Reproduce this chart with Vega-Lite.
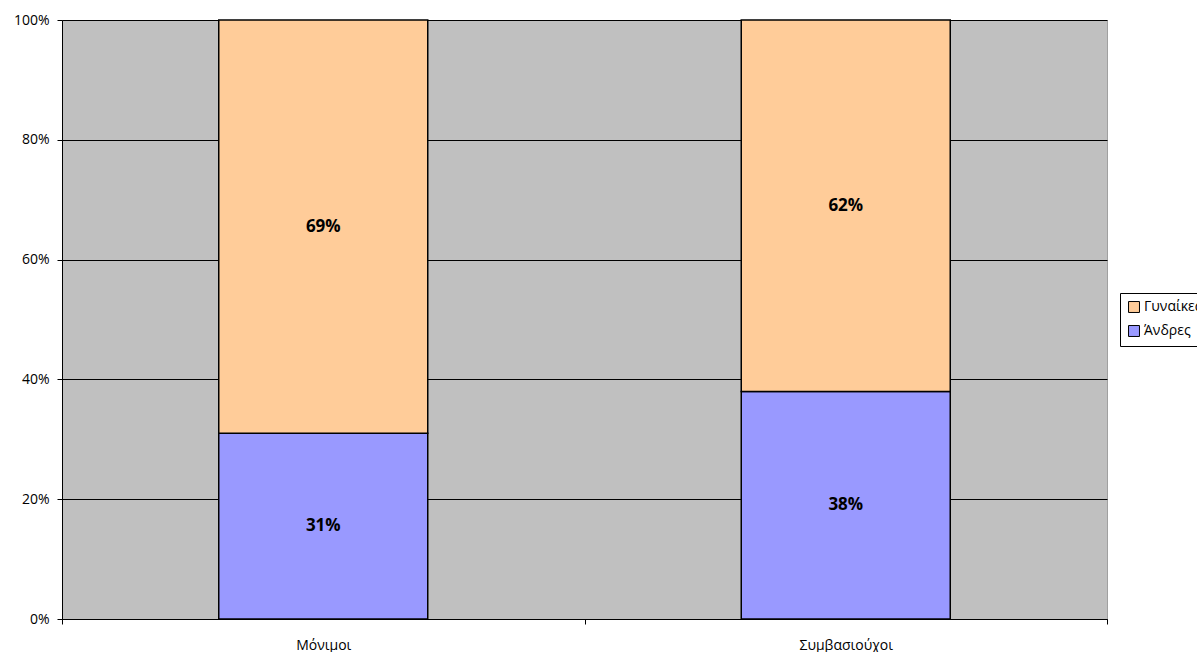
{
  "$schema": "https://vega.github.io/schema/vega-lite/v6.json",
  "autosize": {"type": "none"},
  "padding": {"left": 62, "top": 20, "right": 90, "bottom": 33},
  "width": 1045,
  "height": 599,
  "background": "white",
  "config": {
    "view": {"fill": "#C0C0C0", "stroke": "#A0A0A0"},
    "font": "Open Sans"
  },
  "data": {
    "values": [
      {"type": "Μόνιμοι", "gender": "Άνδρες", "value": 0.31},
      {"type": "Μόνιμοι", "gender": "Γυναίκες", "value": 0.69},
      {"type": "Συμβασιούχοι", "gender": "Άνδρες", "value": 0.38},
      {"type": "Συμβασιούχοι", "gender": "Γυναίκες", "value": 0.62}
    ]
  },
  "transform": [
    {"stack": "value", "groupby": ["type"], "sort": [{"field": "gender", "order": "ascending"}], "as": ["v0", "v1"]},
    {"calculate": "(datum.v0 + datum.v1) / 2", "as": "mid"}
  ],
  "encoding": {
    "x": {
      "field": "type",
      "type": "nominal",
      "sort": null,
      "scale": {"paddingInner": 0, "paddingOuter": 0},
      "axis": {
        "title": null,
        "labelAngle": 0,
        "labelFont": "Open Sans",
        "labelFontSize": 14,
        "labelColor": "black",
        "labelPadding": 14,
        "tickBand": "extent",
        "tickColor": "black",
        "tickSize": 5,
        "domainColor": "black",
        "grid": false
      }
    }
  },
  "layer": [
    {
      "mark": {"type": "bar", "size": 209, "stroke": "black", "strokeWidth": 1.5},
      "encoding": {
        "y": {
          "field": "v0",
          "type": "quantitative",
          "scale": {"domain": [0, 1]},
          "axis": {
            "title": null,
            "format": ".0%",
            "values": [0, 0.2, 0.4, 0.6, 0.8, 1],
            "grid": true,
            "gridColor": "black",
            "gridOpacity": 1,
            "gridWidth": 1,
            "domainColor": "black",
            "tickColor": "black",
            "tickSize": 5,
            "labelFont": "Open Sans",
            "labelFontSize": 14,
            "labelColor": "black",
            "labelPadding": 8
          }
        },
        "y2": {"field": "v1"},
        "color": {
          "field": "gender",
          "type": "nominal",
          "scale": {"domain": ["Γυναίκες", "Άνδρες"], "range": ["#FFCC99", "#9999FF"]},
          "legend": {
            "title": null,
            "orient": "none",
            "legendX": 1058,
            "legendY": 273,
            "symbolType": "square",
            "symbolSize": 120,
            "symbolStrokeColor": "black",
            "symbolStrokeWidth": 1,
            "symbolOpacity": 1,
            "labelFont": "Open Sans",
            "labelFontSize": 14,
            "labelColor": "black",
            "strokeColor": "black",
            "fillColor": "white",
            "padding": 7,
            "rowPadding": 8,
            "labelOffset": 3
          }
        }
      }
    },
    {
      "mark": {"type": "text", "fontWeight": "bold", "fontSize": 17, "font": "Open Sans", "color": "black"},
      "encoding": {
        "y": {"field": "mid", "type": "quantitative"},
        "text": {"field": "value", "type": "quantitative", "format": ".0%"}
      }
    }
  ]
}
